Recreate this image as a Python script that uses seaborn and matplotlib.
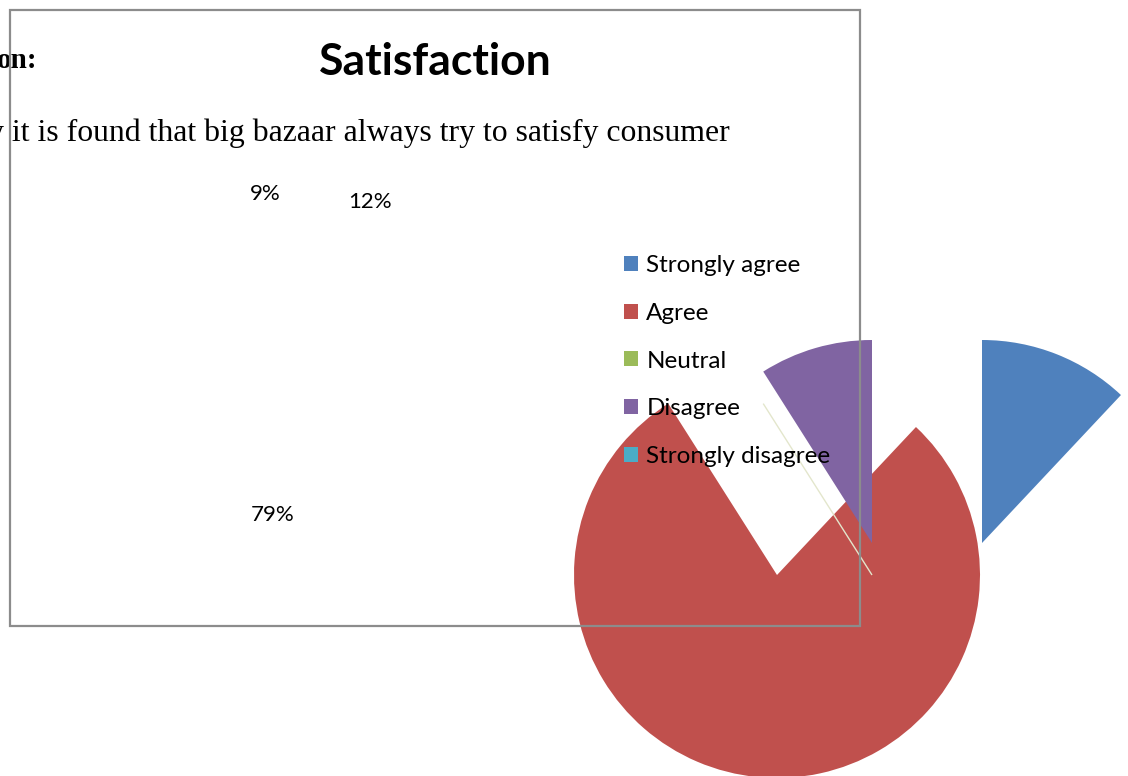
import seaborn as sns
import matplotlib.pyplot as plt
from matplotlib.patches import Rectangle

# dados do grafico
categorias = ["Strongly agree", "Agree", "Neutral", "Disagree", "Strongly disagree"]
percentagens = [12, 79, 0, 9, 0]
cores = ["#4F81BD", "#C0504D", "#9BBB59", "#8064A2", "#4BACC6"]

# rotulos soltos na pagina (so os que aparecem)
rotulos_idx = [3, 0, 1]
rotulos_pos = [(265, 582), (370, 574), (273, 261)]

# deslocamento de cada fatia em relacao ao centro (render partido do pdf)
desloc = [(205, 32), (0, 0), (95, 0), (95, 32), (95, 0)]

sns.set_theme(style="white")
plt.rcParams["font.family"] = ["Lato", "DejaVu Sans"]
plt.rcParams["text.color"] = "black"

fig = plt.figure(figsize=(11.28, 7.76), dpi=100)
ax = fig.add_axes([0, 0, 1, 1])

centro = (777, 201)
wedges, _ = ax.pie(percentagens, colors=sns.color_palette(cores), startangle=90,
                   counterclock=False, radius=203, center=centro,
                   wedgeprops=dict(linewidth=0), normalize=True)
for w, (dx, dy) in zip(wedges, desloc):
    w.set_center((centro[0] + dx, centro[1] + dy))

ax.set_xlim(0, 1128)
ax.set_ylim(0, 776)
ax.set_aspect("auto")
ax.axis("off")

# caixa do grafico
ax.add_patch(Rectangle((10, 150), 850, 616, fill=False, edgecolor="#8c8c8c",
                       linewidth=1.6, zorder=10))

ax.text(435, 714, "Satisfaction", ha="center", va="center", fontsize=32,
        fontweight="bold")
ax.text(38, 715, "on:", ha="right", va="center", fontsize=21, fontweight="bold",
        family="Liberation Serif")
ax.text(-12, 643, "y it is found that big bazaar always try to satisfy consumer",
        ha="left", va="center", fontsize=22.9, family="Liberation Serif")

for i, (x, y) in zip(rotulos_idx, rotulos_pos):
    ax.text(x, y, f"{percentagens[i]}%", ha="center", va="center", fontsize=16)

ax.legend(wedges, categorias, loc="center left", bbox_to_anchor=(612, 415),
          bbox_transform=ax.transData, frameon=False, fontsize=17.5,
          handlelength=0.58, handleheight=0.58, handletextpad=0.33,
          labelspacing=1.10, borderpad=0)

# fatia "Neutral" com 0% fica so como um risco fino (depois da legenda)
wedges[2].set_edgecolor("#e3e6cc")
wedges[2].set_linewidth(1)

fig.savefig("out.png", dpi=100)
